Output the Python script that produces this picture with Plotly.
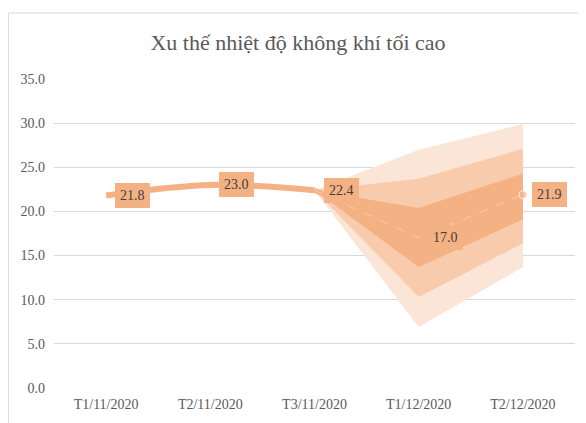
import plotly.graph_objects as go

categories = ["T1/11/2020", "T2/11/2020", "T3/11/2020", "T1/12/2020", "T2/12/2020"]
actual_values = [21.8, 23.0, 22.4]
forecast_values = [22.4, 17.0, 21.9]
outer_upper = [22.4, 27.0, 29.9]
outer_lower = [22.4, 6.9, 13.7]
middle_upper = [22.4, 23.7, 27.1]
middle_lower = [22.4, 10.3, 16.4]
inner_upper = [22.4, 20.4, 24.3]
inner_lower = [22.4, 13.7, 19.1]
y_ticks = [0, 5, 10, 15, 20, 25, 30, 35]

C_OUTER = "#fbe5d6"
C_MID = "#f8cbad"
C_INNER = "#f4b183"
C_LINE = "#f4b183"
FONT = "'Liberation Serif', 'Times New Roman', serif"

fc_x = categories[2:]
fig = go.Figure()

for low, up, col in [(outer_lower, outer_upper, C_OUTER),
                     (middle_lower, middle_upper, C_MID),
                     (inner_lower, inner_upper, C_INNER)]:
    fig.add_trace(go.Scatter(x=fc_x, y=low, mode="lines", line=dict(width=0, color=col),
                             showlegend=False, hoverinfo="skip"))
    fig.add_trace(go.Scatter(x=fc_x, y=up, mode="lines", line=dict(width=0, color=col),
                             fill="tonexty", fillcolor=col, showlegend=False, hoverinfo="skip"))

# forecast line
fig.add_trace(go.Scatter(x=fc_x, y=forecast_values, mode="lines+markers",
                         line=dict(width=5, color=C_LINE),
                         marker=dict(size=[0, 0, 8], color=C_LINE),
                         showlegend=False, hoverinfo="skip"))
fig.add_trace(go.Scatter(x=fc_x, y=forecast_values, mode="lines",
                         line=dict(width=1, color="rgba(255,255,255,0.35)", dash="dash"),
                         showlegend=False, hoverinfo="skip"))

# actual line
fig.add_trace(go.Scatter(x=categories[:3], y=actual_values, mode="lines",
                         line=dict(width=6, color=C_LINE, shape="spline", smoothing=1.0),
                         showlegend=False, hoverinfo="skip"))

# data labels
label_x = categories[:3] + categories[3:]
label_y = actual_values + forecast_values[1:]
for cx, v in zip(label_x, label_y):
    fig.add_annotation(x=cx, y=v, text=f"{v:.1f}", showarrow=False,
                       xanchor="left", yanchor="middle", xshift=9,
                       bgcolor=C_INNER, bordercolor=C_INNER, borderwidth=1, borderpad=4,
                       font=dict(family=FONT, size=14, color="#404040"))

# chart border (page body has an 8px margin)
fig.add_shape(type="rect", xref="paper", yref="paper",
              x0=-0.0875, x1=1.2, y0=-0.3, y1=1.2136,
              line=dict(color="#d9d9d9", width=1), fillcolor="rgba(0,0,0,0)", layer="below")

fig.update_layout(
    width=586, height=423,
    margin=dict(l=46, r=19, t=71, b=43),
    paper_bgcolor="white", plot_bgcolor="white",
    title=dict(text="Xu thế nhiệt độ không khí tối cao", x=290 / 586, xanchor="center",
               y=1 - 34 / 423, yanchor="middle",
               font=dict(family=FONT, size=22, color="#595959")),
    font=dict(family=FONT, size=14, color="#595959"),
    xaxis=dict(type="category", categoryarray=categories, categoryorder="array",
               range=[-0.5, 4.5], showgrid=False, zeroline=False, showline=False,
               ticks="", tickfont=dict(family=FONT, size=14, color="#595959"),
               ticklabelstandoff=6),
    yaxis=dict(range=[0, 35], tickvals=y_ticks, ticktext=[f"{t:.1f}" for t in y_ticks],
               showgrid=True, gridcolor="#d9d9d9", gridwidth=1, zeroline=False,
               showline=False, ticks="", tickfont=dict(family=FONT, size=14, color="#595959"),
               ticklabelstandoff=8),
    hovermode=False,
)

fig.write_html("out.html")
